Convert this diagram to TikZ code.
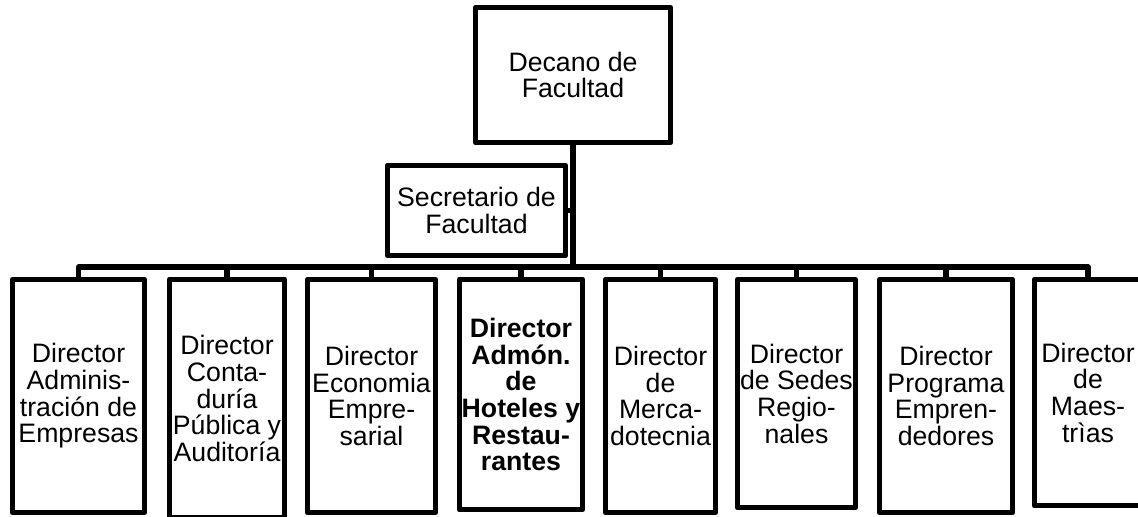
\documentclass[tikz,border=0pt]{standalone}
\usepackage{fontspec}
\setmainfont{Liberation Sans}
\usepackage{tikz}
\usetikzlibrary{positioning}

\begin{document}
\begin{tikzpicture}[x=0.75pt, y=-0.75pt,
        unit/.style={draw, line width=3.8pt, line join=round, inner sep=0pt,
            align=center, font=\fontsize{20}{20}\selectfont},
        link/.style={line width=3.8pt, line join=round}]

        % page frame
        \clip (0,0) rectangle (1138,517);

        % Dean and secretary
        \node[unit, minimum width=146.6pt, minimum height=101.6pt] (decano) at (573,75)
            {Decano de\\Facultad};
        \node[unit, minimum width=133.9pt, minimum height=67.9pt] (secret) at (476.5,210.5)
            {Secretario de\\Facultad};

        % Directors
        \node[unit, minimum width=99.4pt, minimum height=175pt] (dadmin) at (78.5,396)
            {Director\\Adminis-\\tración de\\Empresas};
        \node[unit, minimum width=86.6pt, minimum height=179pt] (dconta) at (227,398.5)
            {Director\\Conta-\\duría\\Pública y\\Auditoría};
        \node[unit, minimum width=96.4pt, minimum height=175pt] (decono) at (371.5,396)
            {Director\\Economia\\Empre-\\sarial};
        \node[unit, minimum width=92.6pt, minimum height=173pt, font=\fontsize{20}{20}\selectfont\bfseries] (dhotel) at (521,394.5)
            {Director\\Admón.\\de\\Hoteles y\\Restau-\\rantes};
        \node[unit, minimum width=82.9pt, minimum height=175pt] (dmerca) at (660.5,396)
            {Director\\de\\Merca-\\dotecnia};
        \node[unit, minimum width=88.9pt, minimum height=171pt] (dsedes) at (796.5,393.5)
            {Director\\de Sedes\\Regio-\\nales};
        \node[unit, minimum width=100.1pt, minimum height=175pt] (dempre) at (946,396)
            {Director\\Programa\\Empren-\\dedores};
        \node[unit, minimum width=80.6pt, minimum height=170pt] (dmaest) at (1088,392.5)
            {Director\\de\\Maes-\\trìas};

        % connectors
        \coordinate (bus) at (573,267);
        \draw[link] (decano.south) -- (bus);
        \draw[link] (secret.east) -- (secret.east -| bus);
        \draw[link] (dadmin.north) |- (bus) -| (dmaest.north);
        \foreach \d in {dconta,decono,dhotel,dmerca,dsedes,dempre}
            \draw[link] (\d.north) -- (\d.north |- bus);

\end{tikzpicture}
\end{document}
